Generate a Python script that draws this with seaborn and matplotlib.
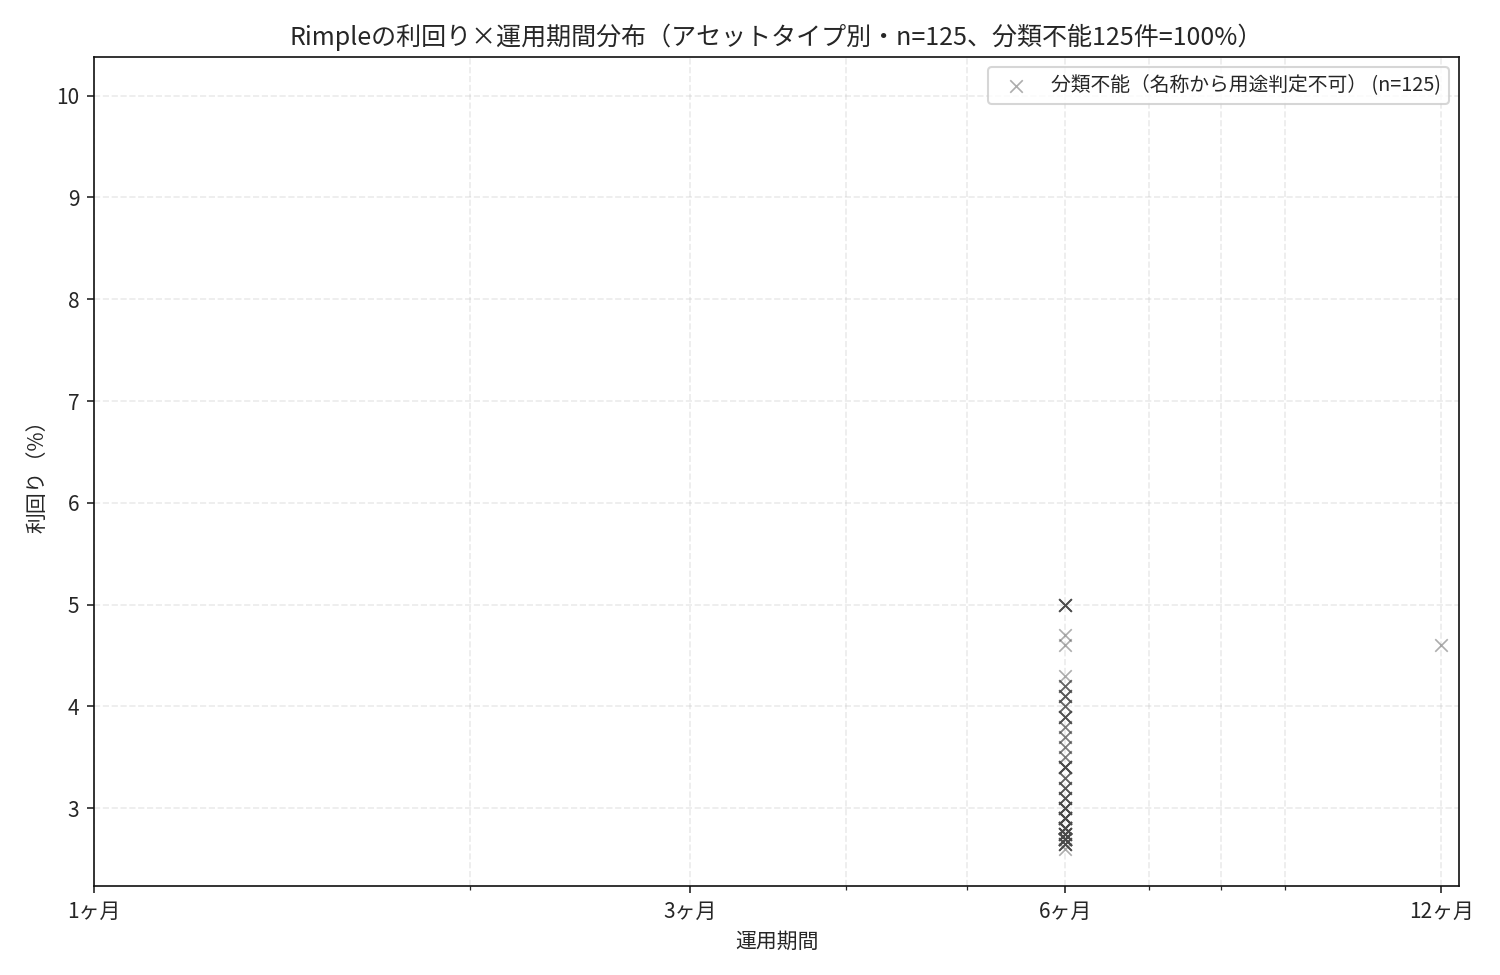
import numpy as np
import pandas as pd
import matplotlib
matplotlib.use("Agg")
import matplotlib.pyplot as plt
import seaborn as sns
from matplotlib.ticker import NullFormatter

sns.set_style("ticks", {"xtick.major.size": 3.5, "ytick.major.size": 3.5,
                        "xtick.minor.size": 2, "ytick.minor.size": 2})
plt.rcParams["font.family"] = ["Noto Sans CJK JP", "DejaVu Sans"]

# data: yield values at 6 months and how many deals sit on each
yields_6m = [5.0, 4.7, 4.6, 4.3, 4.2, 4.1, 4.0, 3.9, 3.8, 3.7, 3.6, 3.5, 3.4,
             3.3, 3.2, 3.1, 3.0, 2.9, 2.8, 2.75, 2.7, 2.65, 2.6]
counts_6m = [6, 1, 1, 1, 3, 4, 3, 5, 2, 2, 2, 2, 8,
             3, 4, 5, 8, 12, 15, 10, 20, 6, 1]
yields_12m = [4.6]

period_ticks = [1, 3, 6, 12]
period_labels = ["1ヶ月", "3ヶ月", "6ヶ月", "12ヶ月"]
legend_label = "分類不能（名称から用途判定不可） (n=125)"

df = pd.DataFrame({
    "months": [6] * sum(counts_6m) + [12] * len(yields_12m),
    "yield": list(np.repeat(yields_6m, counts_6m)) + yields_12m,
})

fig, ax = plt.subplots(figsize=(10, 6.5), dpi=150)
fig.subplots_adjust(left=0.0627, right=0.9727, top=0.9415, bottom=0.0913)

sns.scatterplot(data=df, x="months", y="yield", marker="x", color="#4a4a4a",
                alpha=0.45, s=36, linewidth=0.8, label=legend_label, ax=ax)

ax.set_xscale("log")
ax.set_xticks(period_ticks)
ax.set_xticklabels(period_labels)
ax.xaxis.set_minor_formatter(NullFormatter())
ax.set_xlim(1, 12.4)
ax.set_ylim(2.235, 10.38)
ax.set_yticks(range(3, 11))

ax.grid(True, which="both", linestyle="--", alpha=0.4)
ax.tick_params(labelsize=10)
ax.set_xlabel("運用期間", fontsize=10)
ax.set_ylabel("利回り（%）", fontsize=10)
ax.set_title("Rimpleの利回り×運用期間分布（アセットタイプ別・n=125、分類不能125件=100%）",
             fontsize=12)
ax.legend(loc="upper right", fontsize=9.5)
for sp in ax.spines.values():
    sp.set_color("#111111")

fig.savefig("out.png", dpi=150)
